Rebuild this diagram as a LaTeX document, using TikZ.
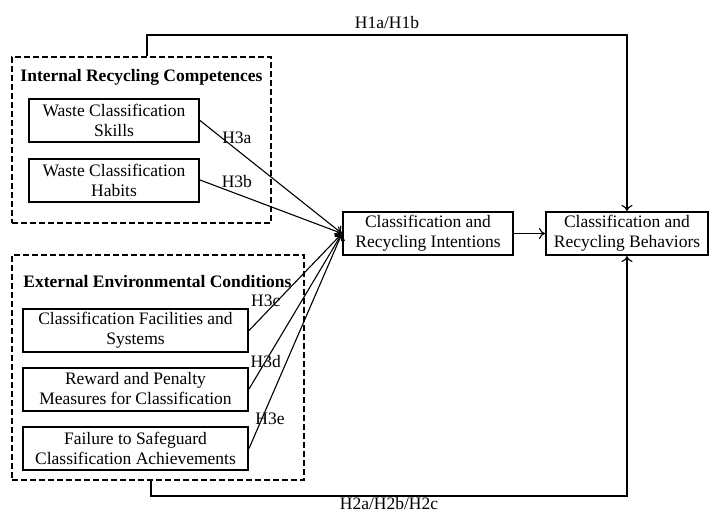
\documentclass[tikz,border=0pt]{standalone}
\usepackage{fontspec}
\setmainfont{Liberation Serif}
\usetikzlibrary{arrows.meta}

\tikzset{
  varbox/.style={draw, line width=2pt, align=center, inner sep=0pt, minimum height=43pt},
  groupbox/.style={draw, line width=1.6pt, dash pattern=on 6pt off 3pt, inner sep=0pt},
  grouptitle/.style={font=\bfseries},
  link/.style={-{To[length=6pt, width=11pt]}, line width=1.1pt},
}

\begin{document}
\fontsize{17.5}{20}\selectfont
\begin{tikzpicture}[x=1pt,y=-1pt]
			\useasboundingbox (0,0) rectangle (710,515);
			% Groups
			\node[groupbox, minimum width=259pt, minimum height=166pt] (internal) at (141.5,140) {};
			\node[groupbox, minimum width=292pt, minimum height=225pt] (external) at (158,367.5) {};
			\node[grouptitle] (inttitle) at (141.5,77) {Internal Recycling Competences};
			\node[grouptitle] (exttitle) at (157.5,282) {External Environmental Conditions};
			% Variables
			\node[varbox, minimum width=170pt] (skills) at (114,120.5) {Waste Classification\\Skills};
			\node[varbox, minimum width=170pt] (habits) at (114,180) {Waste Classification\\Habits};
			\node[varbox, minimum width=225pt] (facil) at (135.5,330.5) {Classification Facilities and\\Systems};
			\node[varbox, minimum width=225pt] (reward) at (135.5,389) {Reward and Penalty\\Measures for Classification};
			\node[varbox, minimum width=225pt] (failure) at (135.5,448.5) {Failure to Safeguard\\Classification Achievements};
			\node[varbox, minimum width=170pt] (intent) at (428,233.5) {Classification and\\Recycling Intentions};
			\node[varbox, minimum width=162pt] (behav) at (627,233.5) {Classification and\\Recycling Behaviors};
			% Paths
			\foreach \src/\lab/\p/\anc/\dx in {skills/H3a/.26/south/0, habits/H3b/.26/south/0, facil/H3c/.18/south/0, reward/H3d/.18/center/0, failure/H3e/.14/center/8}
			\draw[link] (\src.east) -- (intent.west) node[pos=\p, anchor=\anc, xshift=\dx pt] (l\lab) {\lab};
			\draw[link] (intent) -- (behav);
			\coordinate (h1) at (147,35);
			\draw[link] (internal.north -| h1) -- (h1) -| (behav.north) node[pos=.25, above] (lH1) {H1a/H1b};
			\coordinate (h2) at (151,496);
			\draw[link] (external.south -| h2) -- (h2) -| (behav.south) node[pos=.25, below, inner sep=1pt] (lH2) {H2a/H2b/H2c};
		\end{tikzpicture}
\end{document}
